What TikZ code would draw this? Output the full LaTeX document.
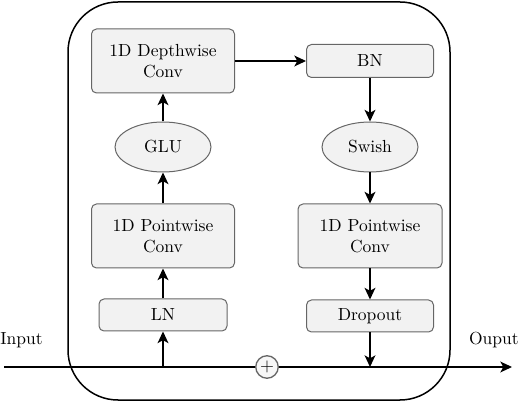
\documentclass[tikz,border=0pt]{standalone}
\usetikzlibrary{shapes.geometric}
\usetikzlibrary{arrows.meta}

\tikzset{
  block/.style={draw=black!60, fill=black!5, rounded corners=3pt, align=center, inner sep=0pt, line width=0.6pt},
  actfn/.style={ellipse, draw=black!60, fill=black!5, inner sep=0pt, minimum width=57.6pt, minimum height=30pt, line width=0.6pt},
  flow/.style={-{Stealth[length=7pt,width=6.5pt,inset=1.8pt]}, draw=black, line width=0.75pt}
}

\begin{document}
\begin{tikzpicture}[x=0.6pt, y=-0.6pt, font=\fontsize{10.5}{12.6}\selectfont]
\useasboundingbox (0,0) rectangle (520,402);
%% outer module
\draw [line width=0.9pt, rounded corners=30pt] (68,2) rectangle (450,400);
%% left branch
\node (ln) at (163,315) [block, minimum width=76.8pt, minimum height=19.2pt] {LN};
\node (pw1) at (163,236) [block, minimum width=85.8pt, minimum height=38.4pt] {1D Pointwise\\Conv};
\node (glu) at (163,147) [actfn] {GLU};
\node (dw) at (163,61) [block, minimum width=85.8pt, minimum height=38.4pt] {1D Depthwise\\Conv};
%% right branch
\node (bn) at (370,61) [block, minimum width=76.2pt, minimum height=19.8pt] {BN};
\node (swish) at (370,147) [actfn] {Swish};
\node (pw2) at (370,236) [block, minimum width=86.4pt, minimum height=38.4pt] {1D Pointwise\\Conv};
\node (drop) at (370,316) [block, minimum width=76.2pt, minimum height=19.2pt] {Dropout};
%% residual path
\coordinate (in) at (4,367);
\coordinate (out) at (512,367);
\node (add) at (267,367) [circle, draw=black!60, fill=black!3, line width=0.8pt, minimum size=13.5pt, inner sep=0pt, font=\fontsize{11}{11}\selectfont] {+};
\node (inlabel) at (0,340) [anchor=west, inner sep=0pt] {Input};
\node (outlabel) at (519,340) [anchor=east, inner sep=0pt] {Ouput};
\draw [line width=0.75pt] (in) -- (add);
\draw [flow] (add) -- (out);
%% arrows
\draw [flow] (ln |- in) -- (ln);
\draw [flow] (ln) -- (pw1);
\draw [flow] (pw1) -- (glu);
\draw [flow] (glu) -- (dw);
\draw [flow] (dw) -- (bn);
\draw [flow] (bn) -- (swish);
\draw [flow] (swish) -- (pw2);
\draw [flow] (pw2) -- (drop);
\draw [flow] (drop) -- (drop |- out);
\end{tikzpicture}
\end{document}
